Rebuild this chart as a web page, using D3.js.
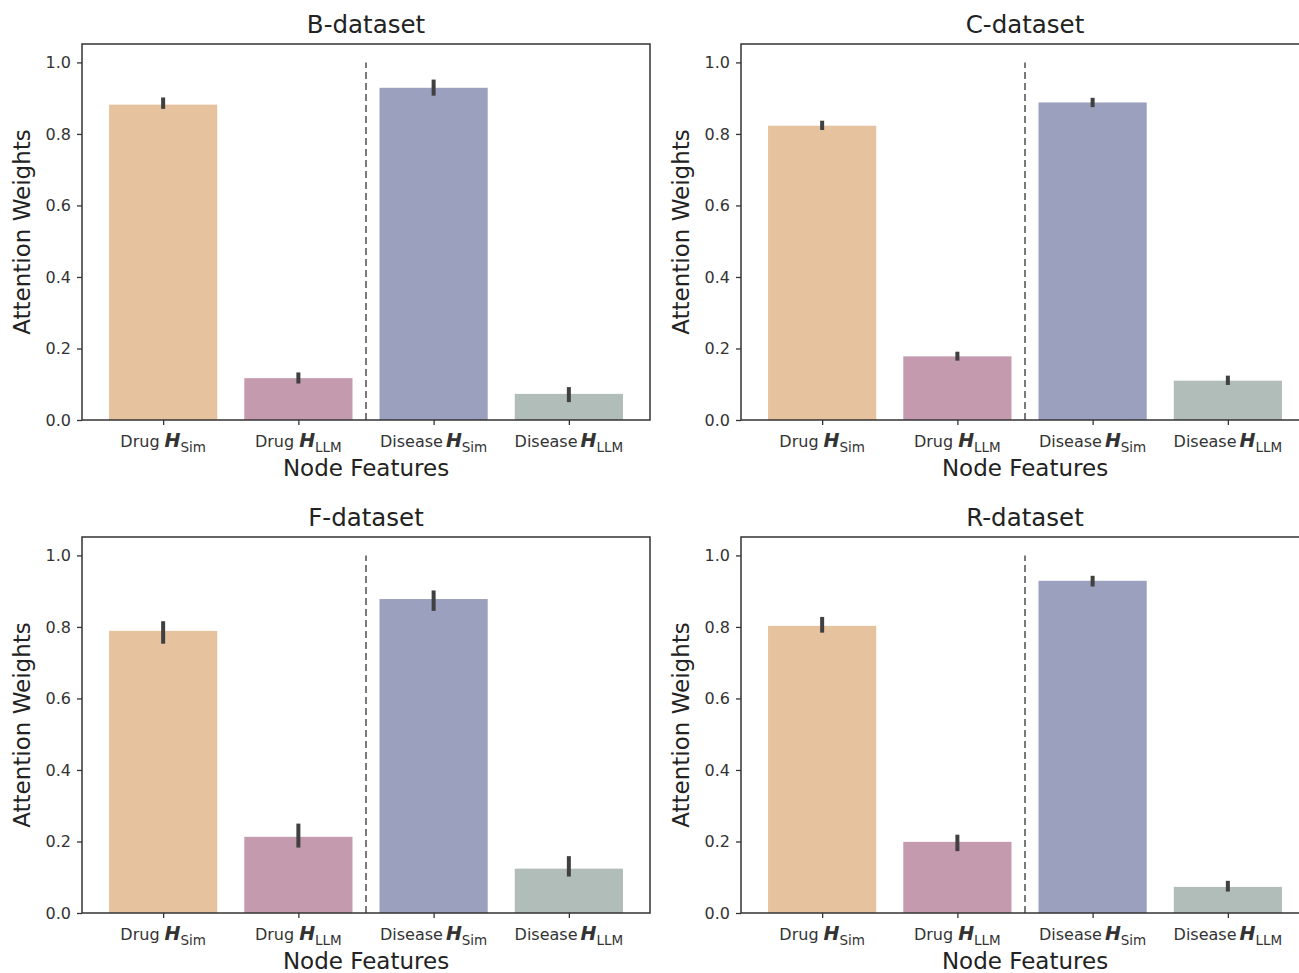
<!DOCTYPE html>
<html><head><meta charset="utf-8">
<script src="https://cdn.jsdelivr.net/npm/d3@7/dist/d3.min.js"></script>
<style>
html,body{margin:0;padding:0;background:#fff;overflow:hidden;}
svg{display:block;font-family:"DejaVu Sans",sans-serif;}
</style></head>
<body><svg id="c" width="1299" height="973"></svg>
<script>
// ---- data ----
const datasets = ["B-dataset", "C-dataset", "F-dataset", "R-dataset"];
const catPrefix = ["Drug", "Drug", "Disease", "Disease"];
const catSub = ["Sim", "LLM", "Sim", "LLM"];
const barColors = ["#e6c29f", "#c49aae", "#9aa0bd", "#b1bdb8"];
const yTicks = [0.0, 0.2, 0.4, 0.6, 0.8, 1.0];

const valuesB = [0.882, 0.117, 0.929, 0.073];
const lowB    = [0.870, 0.102, 0.907, 0.050];
const highB   = [0.902, 0.133, 0.952, 0.092];

const valuesC = [0.823, 0.178, 0.888, 0.110];
const lowC    = [0.811, 0.166, 0.875, 0.098];
const highC   = [0.837, 0.191, 0.901, 0.124];

const valuesF = [0.789, 0.213, 0.878, 0.124];
const lowF    = [0.753, 0.183, 0.845, 0.102];
const highF   = [0.816, 0.250, 0.902, 0.159];

const valuesR = [0.803, 0.199, 0.929, 0.073];
const lowR    = [0.784, 0.173, 0.913, 0.060];
const highR   = [0.828, 0.219, 0.943, 0.090];

const panels = [
  {title: datasets[0], v: valuesB, lo: lowB, hi: highB},
  {title: datasets[1], v: valuesC, lo: lowC, hi: highC},
  {title: datasets[2], v: valuesF, lo: lowF, hi: highF},
  {title: datasets[3], v: valuesR, lo: lowR, hi: highR}
];

// ---- layout ----
const svg = d3.select("#c");
const axW = 568, axH = 376;
const origins = [[82, 44], [741, 44], [82, 537], [741, 537]];
const spine = "#333";

panels.forEach((p, i) => {
  const [ox, oy] = origins[i];
  const g = svg.append("g").attr("transform", `translate(${ox},${oy})`);
  const x = d3.scaleLinear().domain([-0.6, 3.6]).range([0, axW]);
  const y = d3.scaleLinear().domain([0, 1.0515]).range([axH, 0]);
  const bw = x(0.8) - x(0);
  const idx = d3.range(p.v.length);

  // bars
  g.selectAll("rect.bar").data(idx).join("rect")
    .attr("x", d => x(d) - bw / 2)
    .attr("y", d => y(p.v[d]))
    .attr("width", bw)
    .attr("height", d => y(0) - y(p.v[d]))
    .attr("fill", d => barColors[d]);

  // error bars
  g.selectAll("line.err").data(idx).join("line")
    .attr("x1", d => x(d)).attr("x2", d => x(d))
    .attr("y1", d => y(p.lo[d])).attr("y2", d => y(p.hi[d]))
    .attr("stroke", "#404040").attr("stroke-width", 4);

  // dashed separator
  g.append("line")
    .attr("x1", x(1.5)).attr("x2", x(1.5))
    .attr("y1", y(0)).attr("y2", y(1.0))
    .attr("stroke", "#7a7a7a").attr("stroke-width", 2)
    .attr("stroke-dasharray", "7,4");

  // y axis
  const ya = g.append("g").call(d3.axisLeft(y).tickValues(yTicks).tickFormat(d3.format(".1f")).tickSize(5).tickPadding(6));
  ya.select(".domain").remove();
  ya.selectAll(".tick line").attr("stroke", spine).attr("stroke-width", 1.3);
  ya.selectAll(".tick text").attr("fill", "#333").style("font-size", "16px").style("font-family", "DejaVu Sans");

  // x axis ticks
  const xa = g.append("g").attr("transform", `translate(0,${axH})`)
    .call(d3.axisBottom(x).tickValues(idx).tickFormat("").tickSize(5));
  xa.select(".domain").remove();
  xa.selectAll(".tick line").attr("stroke", spine).attr("stroke-width", 1.3);

  // x tick labels with math
  idx.forEach(d => {
    const t = g.append("text").attr("x", x(d)).attr("y", axH + 27)
      .attr("text-anchor", "middle").attr("fill", "#333")
      .style("font-size", "16px");
    t.append("tspan").text(catPrefix[d]);
    t.append("tspan").text("H").attr("dx", catPrefix[d] === "Drug" ? 5 : 3)
      .style("font-weight", "bold").style("font-style", "italic").style("font-size", "19px");
    t.append("tspan").text(catSub[d]).style("font-size", "13.5px").attr("dy", 5);
  });

  // frame
  g.append("rect").attr("x", 0).attr("y", 0).attr("width", axW).attr("height", axH)
    .attr("fill", "none").attr("stroke", spine).attr("stroke-width", 1.5);

  // title
  g.append("text").attr("x", axW / 2).attr("y", -11).attr("text-anchor", "middle")
    .attr("fill", "#222").style("font-size", "24.5px").text(p.title);

  // axis labels
  g.append("text").attr("x", axW / 2).attr("y", axH + 56).attr("text-anchor", "middle")
    .attr("fill", "#222").style("font-size", "23px").text("Node Features");
  g.append("text").attr("transform", `translate(-52,${axH / 2}) rotate(-90)`)
    .attr("text-anchor", "middle").attr("fill", "#222").style("font-size", "23px").text("Attention Weights");
});
</script></body></html>
